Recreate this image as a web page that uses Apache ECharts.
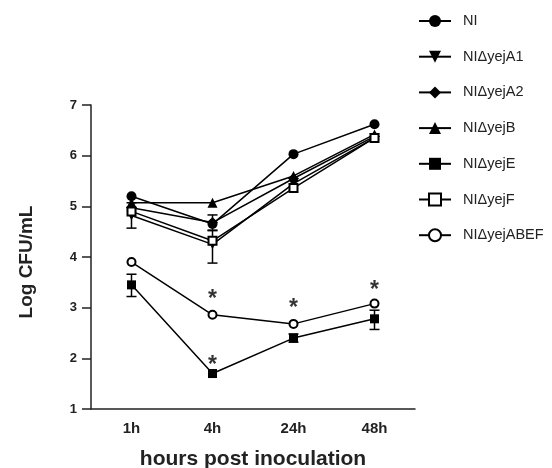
<!DOCTYPE html>
<html><head><meta charset="utf-8">
<script src="https://cdn.jsdelivr.net/npm/echarts@6/dist/echarts.min.js"></script>
<style>html,body{margin:0;padding:0;background:#fff}#c{width:552px;height:468px}</style>
</head><body><div id="c"></div>
<script>
const categories = ['1h', '4h', '24h', '48h'];
const seriesNames = ['NI', 'NIΔyejA1', 'NIΔyejA2', 'NIΔyejB', 'NIΔyejE', 'NIΔyejF', 'NIΔyejABEF'];
const NI     = [5.20, 4.65, 6.03, 6.62];
const yejA1  = [4.82, 4.25, 5.45, 6.35];
const yejA2  = [4.97, 4.68, 5.55, 6.38];
const yejB   = [5.07, 5.07, 5.60, 6.42];
const yejE   = [3.45, 1.70, 2.40, 2.78];
const yejF   = [4.90, 4.32, 5.36, 6.35];
const yejABEF= [3.90, 2.86, 2.68, 3.08];
// error bars: [categoryIndex, low, high]
const errorBars = [
  [0, 4.57, 5.07], [1, 3.88, 4.52],
  [1, 4.53, 4.83],
  [0, 3.22, 3.66], [2, 2.32, 2.48], [3, 2.57, 2.95]
];
// significance markers: [categoryIndex, y]
const stars = [[1, 3.16], [1, 1.85], [2, 2.98], [3, 3.33]];

const symbols = ['circle', 'triangle', 'diamond', 'triangle', 'rect', 'emptyRect', 'emptyCircle'];
const rotations = [0, 180, 0, 0, 0, 0, 0];
const sizes = [10, 10, 11, 10, 9, 8, 8];
const values = [NI, yejA1, yejA2, yejB, yejE, yejF, yejABEF];

const font = 'Arial, "Liberation Sans", sans-serif';
const series = values.map((v, i) => ({
  name: seriesNames[i], type: 'line', data: v,
  symbol: symbols[i], symbolRotate: rotations[i], symbolSize: sizes[i],
  lineStyle: { color: '#000', width: 1.5 },
  itemStyle: { color: '#000', borderColor: '#000', borderWidth: symbols[i].startsWith('empty') ? 2.5 : 0 },
  z: 3, animation: false
}));
series.push({
  type: 'custom', name: 'err', z: 2, animation: false,
  data: errorBars,
  renderItem: function (params, api) {
    const lo = api.coord([api.value(0), api.value(1)]);
    const hi = api.coord([api.value(0), api.value(2)]);
    const w = 5;
    const st = { stroke: '#000', lineWidth: 1.5 };
    return { type: 'group', children: [
      { type: 'line', shape: { x1: lo[0], y1: lo[1], x2: hi[0], y2: hi[1] }, style: st },
      { type: 'line', shape: { x1: lo[0] - w, y1: lo[1], x2: lo[0] + w, y2: lo[1] }, style: st },
      { type: 'line', shape: { x1: hi[0] - w, y1: hi[1], x2: hi[0] + w, y2: hi[1] }, style: st }
    ]};
  }
});
series.push({
  type: 'scatter', name: 'star', data: stars, symbolSize: 0, animation: false,
  label: { show: true, position: 'inside', formatter: '*', fontSize: 23, fontWeight: 'bold', color: '#000', fontFamily: font }
});

const chart = echarts.init(document.getElementById('c'), null, { renderer: 'canvas' });
chart.setOption({
  backgroundColor: '#fff',
  animation: false,
  grid: { left: 91, right: 137, top: 105, bottom: 59, containLabel: false, outerBoundsMode: 'none' },
  legend: {
    data: seriesNames, orient: 'vertical', left: 413, top: 8.5,
    itemWidth: 32, itemHeight: 15, itemGap: 20.7,
    textStyle: { fontFamily: font, fontSize: 14.5, color: '#222', padding: [0, 0, 0, 7] }
  },
  xAxis: {
    type: 'category', data: categories, boundaryGap: true,
    axisLine: { lineStyle: { color: '#222', width: 1.5 } },
    axisTick: { alignWithLabel: true, length: 8, lineStyle: { color: '#222', width: 1.5 } },
    axisLabel: { fontFamily: font, fontWeight: 'bold', fontSize: 15, color: '#222', margin: 12 },
    name: 'hours post inoculation', nameLocation: 'middle', nameGap: 40,
    nameTextStyle: { fontFamily: font, fontWeight: 'bold', fontSize: 21, color: '#222' }
  },
  yAxis: {
    type: 'value', min: 1, max: 7, interval: 1,
    splitLine: { show: false },
    axisLine: { show: true, lineStyle: { color: '#222', width: 1.5 } },
    axisTick: { show: true, length: 9, lineStyle: { color: '#222', width: 1.5 } },
    axisLabel: { fontFamily: font, fontWeight: 'bold', fontSize: 13, color: '#222', margin: 14 },
    name: 'Log CFU/mL', nameLocation: 'middle', nameGap: 55,
    nameTextStyle: { fontFamily: font, fontWeight: 'bold', fontSize: 19, color: '#222', padding: [0, 10, 0, 0] }
  },
  series: series
});
</script></body></html>
